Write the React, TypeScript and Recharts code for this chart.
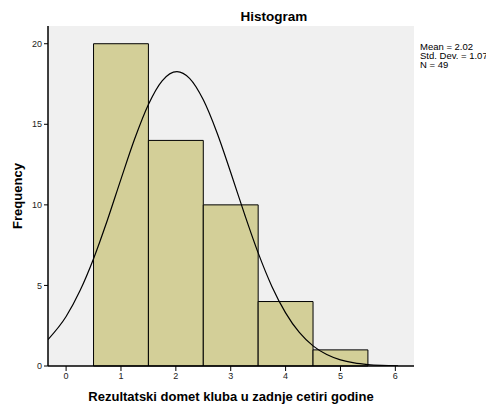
import React from 'react';
import {
  ComposedChart,
  Line,
  XAxis,
  YAxis,
  CartesianGrid,
  ReferenceArea,
} from 'recharts';

// Histogram bins
const binStart = [0.5, 1.5, 2.5, 3.5, 4.5];
const binEnd = [1.5, 2.5, 3.5, 4.5, 5.5];
const counts = [20, 14, 10, 4, 1];

// Fitted normal curve points
const curveX = [-0.33, 0, 0.25, 0.5, 0.75, 1, 1.25, 1.5, 1.75, 2.02, 2.25, 2.5, 2.75, 3, 3.25, 3.5, 3.75, 4, 4.25, 4.5, 4.75, 5, 5.25, 5.5, 5.75, 6.05];
const curveY = [1.64, 3.07, 4.65, 6.66, 9.03, 11.6, 14.1, 16.23, 17.7, 18.27, 17.85, 16.52, 14.48, 12.01, 9.44, 7.02, 4.94, 3.3, 2.08, 1.25, 0.71, 0.38, 0.19, 0.09, 0.04, 0.015];

const xTicks = [0, 1, 2, 3, 4, 5, 6];
const yTicks = [0, 5, 10, 15, 20];

const title = 'Histogram';
const xLabel = 'Rezultatski domet kluba u zadnje cetiri godine';
const yLabel = 'Frequency';
const stats = ['Mean = 2.02', 'Std. Dev. = 1.07', 'N = 49'];

const curveData = curveX.map((x, i) => ({ x, y: curveY[i] }));

const FONT = '"Liberation Sans", Arial, sans-serif';
const tickStyle = { fontSize: 9, fill: '#222', fontFamily: FONT };

export default function App() {
  return (
    <div style={{ position: 'absolute', left: 0, top: 0, width: 486, height: 405, overflow: 'hidden', background: '#fff' }}>
      <ComposedChart
        width={486}
        height={405}
        data={curveData}
        margin={{ top: 26, right: 72, bottom: 0, left: 0 }}
      >
        <CartesianGrid fill="#f0f0f0" horizontal={false} vertical={false} />
        <XAxis
          dataKey="x"
          type="number"
          domain={[-0.33, 6.34]}
          ticks={xTicks}
          allowDataOverflow
          height={39}
          tickSize={5}
          tickMargin={2}
          tick={tickStyle}
          axisLine={{ stroke: '#000', strokeWidth: 1.5 }}
          tickLine={{ stroke: '#000' }}
        />
        <XAxis
          xAxisId="top"
          orientation="top"
          type="number"
          domain={[-0.33, 6.34]}
          height={0}
          tick={false}
          tickLine={false}
          axisLine={{ stroke: '#444', strokeWidth: 1 }}
        />
        <YAxis
          type="number"
          domain={[0, 21.1]}
          ticks={yTicks}
          allowDataOverflow
          width={48}
          tickSize={4}
          tickMargin={2}
          tick={tickStyle}
          axisLine={{ stroke: '#000', strokeWidth: 1.5 }}
          tickLine={{ stroke: '#000' }}
        />
        <YAxis
          yAxisId="right"
          orientation="right"
          type="number"
          domain={[0, 21.1]}
          width={0}
          tick={false}
          tickLine={false}
          axisLine={{ stroke: '#444', strokeWidth: 1 }}
        />
        {counts.map((c, i) => (
          <ReferenceArea
            key={i}
            x1={binStart[i]}
            x2={binEnd[i]}
            y1={0}
            y2={c}
            fill="#d3cf98"
            fillOpacity={1}
            stroke="#000"
            strokeWidth={1}
            ifOverflow="visible"
          />
        ))}
        <Line
          type="monotone"
          dataKey="y"
          stroke="#000"
          strokeWidth={1.2}
          dot={false}
          activeDot={false}
          isAnimationActive={false}
        />
      </ComposedChart>
      <svg
        width={486}
        height={405}
        style={{ position: 'absolute', left: 0, top: 0, pointerEvents: 'none' }}
      >
        <text x={274} y={21} textAnchor="middle" fontSize={13.5} fontWeight="bold" fontFamily={FONT} fill="#000">
          {title}
        </text>
        <text x={231} y={401} textAnchor="middle" fontSize={13} fontWeight="bold" fontFamily={FONT} fill="#000">
          {xLabel}
        </text>
        <text
          transform="translate(22,196) rotate(-90)"
          textAnchor="middle"
          fontSize={13}
          fontWeight="bold"
          fontFamily={FONT}
          fill="#000"
        >
          {yLabel}
        </text>
        {stats.map((s, i) => (
          <text key={i} x={420} y={50 + i * 9} fontSize={9.5} fontFamily={FONT} fill="#000">
            {s}
          </text>
        ))}
      </svg>
    </div>
  );
}
